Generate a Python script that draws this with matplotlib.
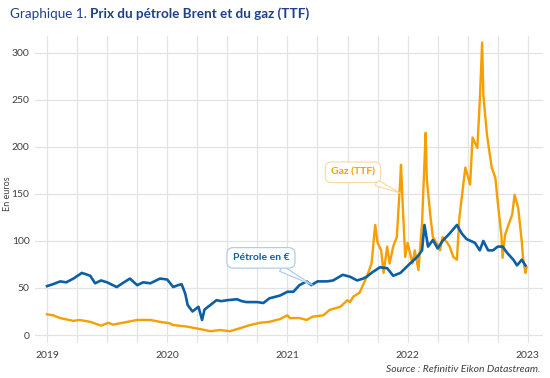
import matplotlib
matplotlib.use("Agg")
import matplotlib.pyplot as plt
import numpy as np

plt.rcParams['font.family'] = ['Lato', 'DejaVu Sans']

# Brent (EUR) - decimal year, value
brent_t = [2019.00, 2019.05, 2019.11, 2019.16, 2019.22, 2019.29, 2019.36, 2019.40, 2019.45, 2019.50,
           2019.58, 2019.64, 2019.69, 2019.75, 2019.80, 2019.86, 2019.94, 2020.00, 2020.05, 2020.09,
           2020.12, 2020.15, 2020.17, 2020.21, 2020.23, 2020.26, 2020.29, 2020.31, 2020.36, 2020.41,
           2020.45, 2020.50, 2020.58, 2020.62, 2020.66, 2020.75, 2020.80, 2020.85, 2020.94, 2021.00,
           2021.05, 2021.10, 2021.16, 2021.20, 2021.25, 2021.33, 2021.38, 2021.46, 2021.52, 2021.58,
           2021.63, 2021.66, 2021.71, 2021.77, 2021.83, 2021.88, 2021.94, 2021.98, 2022.02, 2022.08,
           2022.12, 2022.14, 2022.17, 2022.21, 2022.25, 2022.29, 2022.35, 2022.41, 2022.45, 2022.49,
           2022.56, 2022.60, 2022.63, 2022.67, 2022.71, 2022.75, 2022.79, 2022.83, 2022.88, 2022.91,
           2022.95, 2022.98]
brent_v = [52, 54, 57, 56, 60, 66, 63, 55, 58, 56,
           51, 56, 60, 53, 56, 55, 60, 59, 51, 53,
           54, 44, 32, 25, 27, 30, 16, 27, 32, 37,
           36, 37, 38, 36, 35, 35, 34, 39, 42, 46,
           46, 53, 57, 53, 57, 57, 58, 64, 62, 58,
           60, 62, 67, 72, 71, 63, 66, 71, 76, 83,
           90, 117, 94, 101, 92, 100, 108, 117, 108, 102,
           98, 90, 100, 90, 90, 94, 94, 87, 80, 74,
           80, 74]

# Gaz TTF (EUR/MWh)
gas_t = [2019.00, 2019.05, 2019.11, 2019.22, 2019.27, 2019.36, 2019.45, 2019.51, 2019.55, 2019.67,
         2019.75, 2019.86, 2019.94, 2020.02, 2020.05, 2020.16, 2020.27, 2020.36, 2020.44, 2020.52,
         2020.60, 2020.69, 2020.77, 2020.85, 2020.94, 2021.00, 2021.02, 2021.05, 2021.10, 2021.16,
         2021.21, 2021.30, 2021.35, 2021.44, 2021.50, 2021.52, 2021.55, 2021.60, 2021.66, 2021.70,
         2021.73, 2021.75, 2021.78, 2021.80, 2021.83, 2021.85, 2021.88, 2021.91, 2021.935, 2021.945,
         2021.96, 2021.98, 2022.00, 2022.04, 2022.06, 2022.09, 2022.12, 2022.14, 2022.15, 2022.16,
         2022.19, 2022.21, 2022.24, 2022.27, 2022.29, 2022.33, 2022.35, 2022.38, 2022.41, 2022.43,
         2022.48, 2022.52, 2022.54, 2022.58, 2022.60, 2022.62, 2022.63, 2022.66, 2022.68, 2022.70,
         2022.73, 2022.75, 2022.78, 2022.79, 2022.81, 2022.83, 2022.87, 2022.89, 2022.92, 2022.95,
         2022.96, 2022.98, 2022.99]
gas_v = [22, 21, 18, 15, 16, 14, 10, 13, 11, 14,
         16, 16, 14, 12.5, 10.6, 9, 6.4, 4, 5.3, 4,
         7, 10.6, 13, 14, 17, 21, 18, 18, 18, 16,
         19.5, 21, 26.6, 30, 37, 35, 41, 45, 62, 76,
         117, 98, 90, 66, 94, 76, 94, 104, 157, 181,
         136, 83, 98, 76, 90, 69, 119, 183, 215, 165,
         126, 104, 98, 90, 104, 98, 94, 83, 80, 124,
         178, 160, 210, 199, 248, 311, 255, 213, 195, 178,
         167, 141, 106, 82, 106, 114, 128, 149, 135, 99,
         82, 66, 72]

years = [2019, 2020, 2021, 2022, 2023]
yticks = [0, 50, 100, 150, 200, 250, 300]

BLUE = "#0b5fa5"
ORANGE = "#f59f00"
TITLE_BLUE = "#1f3f8a"

fig = plt.figure(figsize=(5.5, 3.78), dpi=100)
ax = fig.add_axes([0.0636, 0.0926, 0.9234, 0.8124])

ax.plot(gas_t, gas_v, color=ORANGE, lw=1.7, zorder=3)
ax.plot(brent_t, brent_v, color=BLUE, lw=1.9, zorder=4)

ax.set_xlim(2018.90, 2023.125)
ax.set_ylim(-8.5, 318)
ax.set_xticks(years)
ax.set_xticklabels([str(y) for y in years])
ax.set_xticks([y + q for y in years[:-1] for q in (0.25, 0.5, 0.75)], minor=True)
ax.set_yticks(yticks)
ax.grid(True, which='both', color='#e3e3e3', lw=0.9)
ax.set_axisbelow(True)
for s in ax.spines.values():
    s.set_visible(False)
ax.tick_params(which='both', length=0, labelsize=7.5, colors='#404040', pad=4)
ax.tick_params(axis='x', pad=6)
ax.set_ylabel("En euros", fontsize=6.5, color='#404040')
ax.yaxis.set_label_coords(-0.046, 0.485)

# Callouts
ax.annotate("Pétrole en €", xy=(2021.21, 53), xytext=(2020.78, 82),
            ha='center', va='center', fontsize=7.5, fontweight='bold', color=BLUE,
            bbox=dict(boxstyle='round,pad=0.55,rounding_size=0.6', fc='white', ec='#a9c8e6', lw=0.8),
            arrowprops=dict(arrowstyle='wedge,tail_width=0.6', fc='white', ec='#a9c8e6', lw=0.8,
                            shrinkA=0, shrinkB=0), zorder=6)
ax.annotate("Gaz (TTF)", xy=(2021.935, 151), xytext=(2021.545, 173),
            ha='center', va='center', fontsize=7.5, fontweight='bold', color=ORANGE,
            bbox=dict(boxstyle='round,pad=0.55,rounding_size=0.6', fc='white', ec='#f8d9a0', lw=0.8),
            arrowprops=dict(arrowstyle='wedge,tail_width=0.6', fc='white', ec='#f8d9a0', lw=0.8,
                            shrinkA=0, shrinkB=0), zorder=6)

# Title
t1 = fig.text(0.018, 0.963, "Graphique 1. ", fontsize=9.7, color=TITLE_BLUE, va='center', ha='left')
fig.canvas.draw()
bb = t1.get_window_extent()
x2 = bb.x1 / fig.bbox.width
fig.text(x2, 0.963, "Prix du pétrole Brent et du gaz (TTF)", fontsize=9.7, color=TITLE_BLUE,
         fontweight='bold', va='center', ha='left')

fig.text(0.982, 0.022, "Source : Refinitiv Eikon Datastream.", fontsize=7.5, style='italic',
         color='#404040', ha='right', va='center')

fig.savefig("out.png", dpi=100)
